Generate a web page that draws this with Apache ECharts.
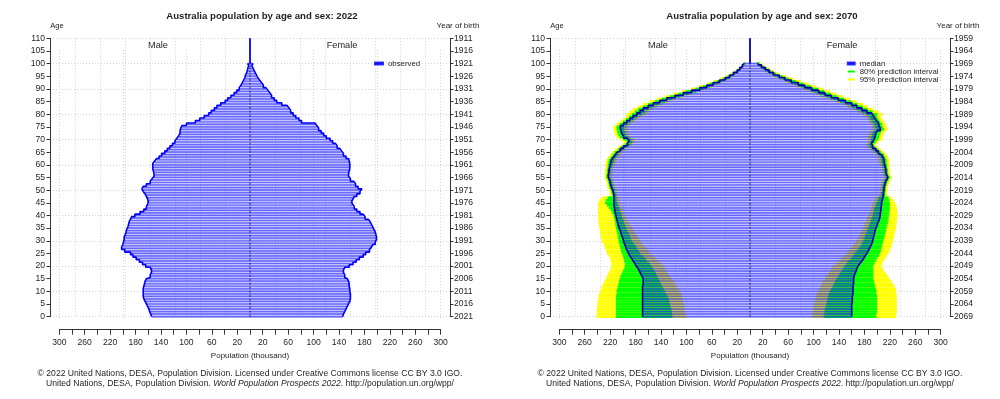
<!DOCTYPE html>
<html>
<head>
<meta charset="utf-8">
<script src="https://cdn.jsdelivr.net/npm/echarts@6/dist/echarts.min.js"></script>
<style>
  html, body { margin: 0; padding: 0; background: #fff; }
  #chart { width: 1000px; height: 399px; }
</style>
</head>
<body>
<div id="chart"></div>
<script>
  // ages 0..100 (100 = 100+), one bar per age
  const ages = Array.from({ length: 101 }, (_, i) => i)

  // 2022 observed, thousands
  const male2022 = [
    155, 156, 158, 159, 161, 163, 165, 167, 168, 168,
    168, 168, 167, 166, 165, 163, 157, 155, 155, 157,
    164, 169, 174, 179, 184, 188, 197, 202, 200, 199,
    198, 198, 196, 195, 194, 192, 191, 190, 188, 186,
    181, 173, 167, 163, 161, 160, 161, 163, 165, 168,
    170, 168, 163, 157, 154, 151, 151, 152, 153, 153,
    153, 150, 147, 143, 139, 134, 130, 126, 122, 118,
    115, 112, 110, 110, 109, 107, 100, 86, 79, 72,
    65, 61, 56, 52, 46, 39, 35, 30, 25, 21,
    17, 14, 12, 10, 8, 7, 5, 4, 3, 2, 4
  ]
  const female2022 = [
    146, 147, 149, 151, 153, 155, 157, 158, 158, 158,
    157, 157, 156, 156, 155, 153, 149, 147, 147, 149,
    156, 162, 167, 172, 178, 182, 188, 191, 193, 197,
    199, 199, 198, 197, 195, 193, 191, 189, 186, 181,
    178, 173, 168, 164, 161, 160, 162, 164, 168, 173,
    176, 170, 166, 163, 158, 155, 155, 156, 157, 157,
    157, 156, 155, 151, 147, 144, 141, 137, 134, 130,
    126, 120, 116, 112, 108, 105, 102, 81, 77, 72,
    68, 64, 61, 58, 50, 42, 38, 34, 31, 28,
    25, 21, 18, 15, 12, 10, 8, 6, 4, 3, 5
  ]

  // 2070 projection, thousands
  const male2070 = [
    169, 169, 169, 169, 169, 169, 169, 169, 169, 169,
    169, 169, 169, 168, 168, 168, 170, 172, 174, 176,
    179, 181, 184, 186, 189, 191, 193, 195, 196, 198,
    199, 200, 202, 203, 204, 206, 207, 208, 209, 210,
    211, 212, 213, 213, 214, 214, 214, 214, 214, 215,
    216, 218, 219, 220, 221, 223, 223, 222, 222, 221,
    220, 219, 218, 215, 212, 209, 204, 199, 193, 190,
    193, 199, 202, 203, 204, 204, 199, 194, 189, 184,
    178, 173, 168, 160, 152, 142, 131, 118, 105, 92,
    79, 68, 58, 48, 39, 32, 26, 20, 16, 12, 9
  ]
  const male2070Lo95 = [
    101, 102, 102, 103, 103, 104, 105, 106, 107, 108,
    110, 113, 115, 118, 120, 123, 126, 129, 131, 134,
    136, 140, 144, 148, 152, 157, 160, 163, 167, 170,
    173, 176, 178, 181, 183, 186, 188, 190, 193, 195,
    197, 199, 200, 202, 204, 205, 206, 207, 208, 209,
    210, 212, 213, 214, 215, 217, 217, 216, 216, 215,
    212, 211, 210, 207, 204, 201, 196, 191, 185, 182,
    182, 188, 191, 192, 193, 193, 188, 183, 178, 173,
    164, 159, 154, 146, 138, 128, 118, 106, 94, 82,
    69, 59, 50, 41, 33, 27, 22, 17, 13, 10, 7
  ]
  const male2070Lo80 = [
    122, 123, 123, 124, 125, 126, 127, 128, 130, 132,
    134, 136, 138, 140, 142, 144, 146, 148, 150, 152,
    155, 158, 162, 165, 169, 173, 175, 178, 180, 183,
    186, 188, 189, 191, 193, 195, 196, 198, 199, 201,
    202, 204, 205, 206, 208, 209, 210, 210, 211, 212,
    213, 215, 216, 217, 218, 220, 220, 219, 219, 218,
    216, 215, 214, 211, 208, 205, 200, 195, 189, 186,
    187, 193, 196, 197, 198, 198, 193, 188, 183, 178,
    170, 165, 160, 152, 144, 134, 123, 110, 97, 85,
    73, 63, 54, 45, 36, 30, 24, 18, 15, 11, 8
  ]
  const male2070Hi80 = [
    211, 211, 211, 211, 211, 211, 211, 211, 211, 210,
    210, 209, 208, 207, 206, 205, 204, 202, 200, 198,
    197, 197, 198, 199, 200, 202, 203, 204, 205, 206,
    207, 208, 208, 209, 210, 211, 212, 212, 213, 214,
    215, 217, 219, 222, 225, 228, 227, 224, 217, 218,
    219, 221, 222, 223, 224, 226, 226, 225, 225, 224,
    224, 223, 222, 219, 216, 213, 208, 203, 197, 194,
    199, 205, 208, 209, 210, 210, 205, 200, 195, 190,
    186, 181, 176, 168, 160, 150, 139, 126, 113, 100,
    86, 74, 63, 52, 43, 35, 28, 22, 17, 13, 10
  ]
  const male2070Hi95 = [
    241, 241, 241, 241, 240, 240, 240, 239, 238, 237,
    236, 234, 233, 231, 229, 227, 225, 223, 221, 219,
    218, 218, 219, 220, 222, 225, 226, 228, 230, 231,
    233, 234, 235, 236, 236, 237, 238, 238, 239, 239,
    239, 239, 239, 239, 239, 239, 237, 233, 220, 221,
    222, 224, 225, 226, 227, 229, 229, 228, 228, 227,
    228, 227, 226, 223, 220, 217, 212, 207, 201, 198,
    204, 210, 213, 214, 215, 215, 210, 205, 200, 195,
    194, 189, 184, 176, 168, 158, 147, 134, 121, 107,
    93, 80, 68, 57, 47, 38, 31, 24, 19, 14, 10
  ]
  const female2070 = [
    160, 160, 160, 160, 160, 160, 161, 161, 161, 162,
    162, 162, 162, 163, 163, 163, 164, 165, 167, 168,
    170, 173, 176, 179, 181, 184, 186, 188, 190, 192,
    193, 194, 195, 196, 197, 198, 200, 201, 203, 204,
    205, 205, 206, 206, 207, 207, 208, 209, 210, 210,
    211, 211, 212, 213, 215, 217, 215, 214, 214, 213,
    212, 211, 211, 209, 207, 202, 198, 193, 191, 194,
    196, 197, 198, 200, 205, 203, 202, 199, 196, 194,
    191, 184, 176, 168, 160, 150, 139, 128, 118, 108,
    97, 86, 76, 65, 55, 46, 37, 30, 24, 18, 13
  ]
  const female2070Lo95 = [
    97, 98, 98, 99, 100, 101, 102, 103, 104, 105,
    107, 109, 111, 113, 115, 118, 120, 123, 126, 128,
    131, 135, 140, 144, 148, 152, 155, 159, 162, 165,
    168, 170, 172, 174, 176, 178, 180, 181, 183, 184,
    186, 188, 189, 191, 192, 194, 196, 198, 204, 204,
    205, 205, 206, 207, 209, 211, 209, 208, 208, 207,
    204, 203, 203, 201, 199, 194, 190, 185, 183, 186,
    185, 186, 187, 189, 194, 192, 191, 188, 185, 183,
    177, 170, 162, 154, 146, 136, 125, 114, 104, 94,
    84, 74, 65, 55, 46, 38, 30, 24, 19, 14, 10
  ]
  const female2070Lo80 = [
    116, 117, 117, 118, 119, 120, 121, 122, 123, 124,
    126, 128, 130, 132, 134, 136, 139, 141, 144, 146,
    149, 152, 155, 159, 162, 165, 168, 171, 174, 176,
    178, 180, 181, 183, 184, 186, 187, 189, 190, 192,
    193, 194, 195, 196, 198, 199, 201, 203, 207, 207,
    208, 208, 209, 210, 212, 214, 212, 211, 211, 210,
    208, 207, 207, 205, 203, 198, 194, 189, 187, 190,
    190, 191, 192, 194, 199, 197, 196, 193, 190, 188,
    183, 176, 168, 160, 152, 142, 131, 120, 110, 100,
    90, 80, 70, 60, 51, 42, 34, 27, 21, 16, 11
  ]
  const female2070Hi80 = [
    199, 199, 200, 200, 200, 200, 200, 200, 200, 199,
    199, 198, 197, 196, 195, 194, 194, 194, 194, 194,
    194, 196, 198, 200, 203, 205, 206, 207, 208, 209,
    210, 211, 212, 213, 214, 215, 216, 217, 218, 218,
    219, 219, 220, 220, 220, 220, 219, 218, 213, 213,
    214, 214, 215, 216, 218, 220, 218, 217, 217, 216,
    216, 215, 215, 213, 211, 206, 202, 197, 195, 198,
    202, 203, 204, 206, 211, 209, 208, 205, 202, 200,
    200, 193, 185, 177, 169, 159, 148, 137, 127, 117,
    107, 95, 84, 72, 61, 51, 41, 33, 27, 20, 15
  ]
  const female2070Hi95 = [
    230, 230, 231, 231, 231, 231, 231, 231, 231, 230,
    230, 229, 227, 225, 222, 220, 217, 214, 211, 209,
    207, 208, 210, 213, 215, 218, 220, 221, 223, 224,
    225, 226, 227, 228, 229, 230, 230, 231, 231, 232,
    232, 232, 232, 231, 230, 228, 226, 222, 216, 216,
    217, 217, 218, 219, 221, 223, 221, 220, 220, 219,
    220, 219, 219, 217, 215, 210, 206, 201, 199, 202,
    208, 209, 210, 212, 217, 215, 214, 211, 208, 206,
    209, 202, 194, 186, 178, 168, 157, 146, 136, 126,
    115, 103, 92, 80, 68, 57, 46, 37, 30, 23, 17
  ]

  // centre line: dotted through the bars, solid above the last age group
  const centreLower = [[0, 0], [0, 100]]
  const centreUpper = [[0, 100], [0, 110]]

  const FONT = "'Liberation Sans', Arial, sans-serif"
  const INK = '#1e1e1e'
  const GRID_LINE = { show: true, lineStyle: { color: '#d2d2d2', type: [1, 2], width: 1 } }
  const OFF = { show: false }

  const grids = []
  const xAxes = []
  const yAxes = []
  const series = []
  const graphics = []
  const push = (arr, item) => { arr.push(item); return arr.length - 1 }

  const text = (x, y, str, size, extra) => {
    graphics.push({
      type: 'text', x, y, silent: true,
      style: Object.assign({
        text: str, fontSize: size, fontFamily: FONT, fill: INK,
        align: 'center', verticalAlign: 'middle'
      }, extra || {})
    })
  }

  const buildPanel = (p) => {
    const ox = p.ox

    // frame: square dotted grid + age / year-of-birth axes
    const gFrame = push(grids, { left: ox + 50, top: 38.3, width: 400, height: 278.4 })
    const xFrame = push(xAxes, {
      type: 'value', gridIndex: gFrame, min: -8, max: 8, interval: 1,
      axisLine: OFF, axisTick: OFF, axisLabel: OFF, splitLine: GRID_LINE
    })
    const yAge = push(yAxes, {
      type: 'value', gridIndex: gFrame, position: 'left', min: 0, max: 110, interval: 5,
      axisLine: { show: true, onZero: false, lineStyle: { color: '#333', width: 1 } },
      axisTick: { show: true, length: 3.5, lineStyle: { color: '#333' } },
      axisLabel: { margin: 5, fontSize: 8.6, color: INK, fontFamily: FONT },
      splitLine: OFF
    })
    push(yAxes, {
      type: 'value', gridIndex: gFrame, position: 'right', min: 0, max: 110, interval: 5,
      axisLine: { show: true, onZero: false, lineStyle: { color: '#333', width: 1 } },
      axisTick: { show: true, length: 3.5, lineStyle: { color: '#333' } },
      axisLabel: { margin: 4, fontSize: 8.6, color: INK, fontFamily: FONT, formatter: (v) => String(p.birthBase - v) },
      splitLine: OFF
    })
    push(yAxes, {
      type: 'value', gridIndex: gFrame, position: 'left', min: 0, max: 110, interval: 10,
      axisLine: { show: false, onZero: false }, axisTick: OFF, axisLabel: OFF, splitLine: GRID_LINE
    })

    // lines every 100 thousand
    const gHund = push(grids, { left: ox + 59.3, top: 50, width: 381.4, height: 270 })
    push(xAxes, {
      type: 'value', gridIndex: gHund, min: -300, max: 300, interval: 100,
      axisLine: OFF, axisTick: OFF, axisLabel: OFF, splitLine: GRID_LINE
    })
    push(yAxes, { type: 'value', gridIndex: gHund, min: 0, max: 1, show: false })

    // bars
    const gBar = push(grids, { left: ox + 59.3, top: 62.3, width: 381.4, height: 255.6 })
    const xBar = push(xAxes, {
      type: 'value', gridIndex: gBar, position: 'bottom', offset: 11.3,
      min: -300, max: 300, interval: 20,
      axisLine: { show: true, onZero: false, lineStyle: { color: '#333', width: 1 } },
      axisTick: { show: true, length: 5.5, lineStyle: { color: '#333' } },
      axisLabel: {
        margin: 9, fontSize: 8.6, color: INK, fontFamily: FONT,
        formatter: (v) => (Math.abs(v) % 40 === 20 ? String(Math.abs(v)) : '')
      },
      splitLine: OFF
    })
    const yBand = push(yAxes, { type: 'category', gridIndex: gBar, data: ages, show: false })
    const yMid = push(yAxes, { type: 'category', gridIndex: gBar, data: ages, show: false })

    // prediction intervals: transparent base + coloured span, one stack per sex
    ;(p.bands || []).forEach((b, bi) => {
      [[-1, b.male], [1, b.female]].forEach(([sign, [lo, hi]], si) => {
        const stack = 'band' + bi + '_' + si + '_' + ox
        series.push({
          type: 'bar', xAxisIndex: xBar, yAxisIndex: yBand, stack, silent: true,
          barCategoryGap: '0%', barGap: '-100%',
          data: lo.map((v) => sign * v), itemStyle: { color: 'rgba(0,0,0,0)' }
        })
        series.push({
          type: 'bar', name: b.name, xAxisIndex: xBar, yAxisIndex: yBand, stack, silent: true,
          barCategoryGap: '0%', barGap: '-100%',
          data: hi.map((v, i) => sign * (v - lo[i])), itemStyle: { color: b.color }
        })
      })
    })

    // age bars
    ;[[-1, p.male], [1, p.female]].forEach(([sign, vals]) => {
      series.push({
        type: 'bar', name: p.name, xAxisIndex: xBar, yAxisIndex: yMid, silent: true,
        barCategoryGap: '34%', barGap: '-100%',
        data: vals.map((v) => sign * v),
        itemStyle: { color: 'rgba(40,40,255,0.5)', borderColor: 'rgba(20,20,255,0.85)', borderWidth: 0.5 }
      })
    })
    ;[[-1, p.male], [1, p.female]].forEach(([sign, vals]) => {
      series.push({
        type: 'line', name: p.name, xAxisIndex: xBar, yAxisIndex: yMid, silent: true,
        step: 'middle', showSymbol: false, z: 3,
        data: vals.map((v) => sign * v),
        lineStyle: { color: p.lineColor, width: 1.6 }
      })
    })

    // centre line
    series.push({
      type: 'line', xAxisIndex: xFrame, yAxisIndex: yAge, silent: true, showSymbol: false, z: 4,
      data: centreLower, lineStyle: { color: '#333', width: 1, type: [2, 2] }
    })
    series.push({
      type: 'line', xAxisIndex: xFrame, yAxisIndex: yAge, silent: true, showSymbol: false, z: 4,
      data: centreUpper, lineStyle: { color: p.lineColor, width: 1.8 }
    })

    // texts
    text(ox + 262, 16, p.title, 9.6, { fontWeight: 'bold' })
    text(ox + 57, 26, 'Age', 7.6)
    text(ox + 458, 26, 'Year of birth', 8)
    text(ox + 158, 45, 'Male', 9.2)
    text(ox + 342, 45, 'Female', 9.2)
    text(ox + 250, 356, 'Population (thousand)', 8)
    text(ox + 250, 374, '© 2022 United Nations, DESA, Population Division. Licensed under Creative Commons license CC BY 3.0 IGO.', 8.6)
    graphics.push({
      type: 'text', x: ox + 250, y: 384, silent: true,
      style: {
        text: '{n|United Nations, DESA, Population Division. }{i|World Population Prospects 2022}{n|. http://population.un.org/wpp/}',
        align: 'center', verticalAlign: 'middle', fill: INK, fontSize: 8.6, fontFamily: FONT,
        rich: {
          n: { fontSize: 8.6, fontFamily: FONT, fill: INK },
          i: { fontSize: 8.6, fontFamily: FONT, fill: INK, fontStyle: 'italic' }
        }
      }
    })
  }

  buildPanel({
    ox: 0, title: 'Australia population by age and sex: 2022', birthBase: 2021,
    name: 'observed', lineColor: '#0000ff',
    male: male2022, female: female2022
  })
  buildPanel({
    ox: 500, title: 'Australia population by age and sex: 2070', birthBase: 2069,
    name: 'median', lineColor: '#0000b0',
    male: male2070, female: female2070,
    bands: [
      { name: '95% prediction interval', color: '#ffff00', male: [male2070Lo95, male2070Hi95], female: [female2070Lo95, female2070Hi95] },
      { name: '80% prediction interval', color: '#00ff00', male: [male2070Lo80, male2070Hi80], female: [female2070Lo80, female2070Hi80] }
    ]
  })

  const legendText = { fontSize: 7.8, color: INK, fontFamily: FONT, lineHeight: 7.5 }
  const chart = echarts.init(document.getElementById('chart'), null, { renderer: 'canvas' })
  chart.setOption({
    animation: false,
    backgroundColor: '#fff',
    grid: grids,
    xAxis: xAxes,
    yAxis: yAxes,
    series,
    graphic: graphics,
    legend: [
      {
        left: 374, top: 59.5, padding: 0, itemWidth: 8, itemHeight: 2, icon: 'rect',
        selectedMode: false, textStyle: legendText,
        data: [{ name: 'observed', itemStyle: { color: '#0000ff' } }]
      },
      {
        left: 846.7, top: 59.5, padding: 0, orient: 'vertical', itemGap: 0,
        itemWidth: 7, itemHeight: 2, icon: 'rect', selectedMode: false, textStyle: legendText,
        data: [
          { name: 'median', itemStyle: { color: '#0000ff' } },
          { name: '80% prediction interval', itemStyle: { color: '#00ff00' } },
          { name: '95% prediction interval', itemStyle: { color: '#ffff00' } }
        ]
      }
    ]
  })
</script>
</body>
</html>
